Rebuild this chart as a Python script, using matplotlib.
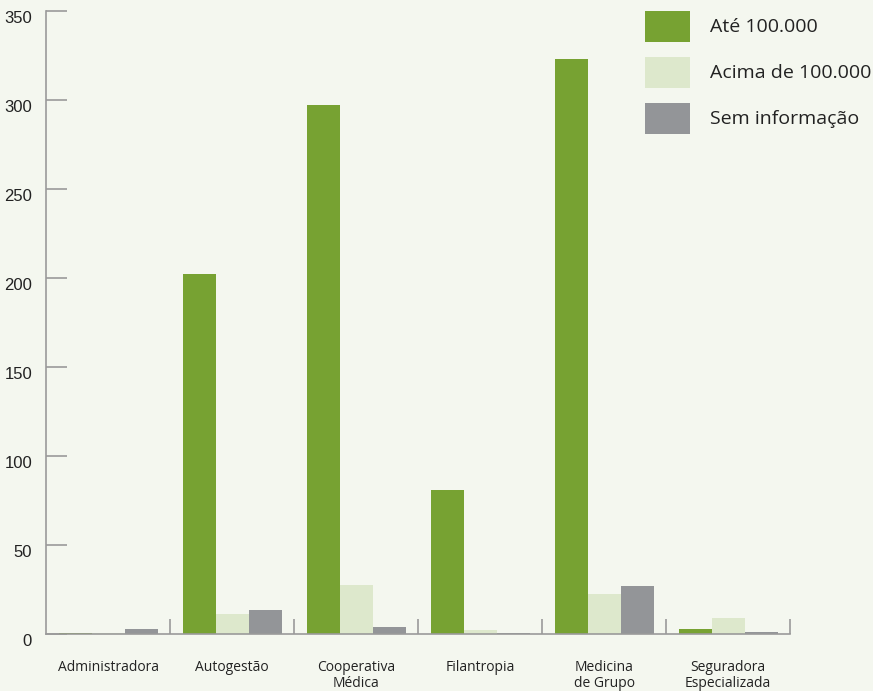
import matplotlib.pyplot as plt
from matplotlib.patches import Rectangle
import numpy as np

categories = ['Administradora', 'Autogestão', 'Cooperativa\nMédica', 'Filantropia',
              'Medicina\nde Grupo', 'Seguradora\nEspecializada']
ate_100k = [0.5, 202, 297, 81, 323, 3]
acima_100k = [0.5, 11, 27.5, 2, 22.5, 9]
sem_info = [3, 13.5, 4, 0.8, 27, 1]
labels = ['Até 100.000', 'Acima de 100.000', 'Sem informação']
colors = ['#77a232', '#dde8cc', '#939598']

bg = '#f4f7ef'
W, H = 873, 691
fig = plt.figure(figsize=(W / 100, H / 100), dpi=100, facecolor=bg)
ax = fig.add_axes([46 / W, 1 - 634 / H, (790 - 46) / W, (634 - 11) / H], facecolor=bg)

x = np.arange(len(categories))
bw = 33 / 124
series = [ate_100k, acima_100k, sem_info]
for i, vals in enumerate(series):
    ax.bar(x + 0.5 + (i - 1) * bw, vals, width=bw, color=colors[i], label=labels[i], zorder=2)

ax.set_xlim(0, len(categories))
ax.set_ylim(0, 350)

axis_col = '#9a9a9a'
for s in ['top', 'right']:
    ax.spines[s].set_visible(False)
for s in ['left', 'bottom']:
    ax.spines[s].set_color(axis_col)
    ax.spines[s].set_linewidth(1.2)

# y ticks point inward, labels sit a little below the tick
ax.set_yticks(np.arange(0, 351, 50))
ax.tick_params(axis='y', direction='in', length=15, width=1.2, color=axis_col,
               labelsize=12, pad=10)
for t in ax.get_yticklabels():
    t.set_fontfamily('Liberation Sans')
    t.set_color('#222222')
    t.set_verticalalignment('top')

# group separators on the x axis, category names drawn as text
ax.set_xticks(np.arange(1, len(categories) + 1))
ax.set_xticklabels([])
ax.tick_params(axis='x', direction='in', length=11, width=1.2, color=axis_col)
for i, c in enumerate(categories):
    ax.text(i + 0.5, -0.042, c, transform=ax.get_xaxis_transform(), ha='center', va='top',
            fontsize=10, family='Open Sans', color='#222222', linespacing=1.1)

# legend drawn by hand: big swatches on the top right
for i, (lab, col) in enumerate(zip(labels, colors)):
    top = 11 + i * 46
    fig.add_artist(Rectangle((645 / W, 1 - (top + 31) / H), 45 / W, 31 / H,
                             transform=fig.transFigure, facecolor=col, edgecolor='none'))
    fig.text(710 / W, 1 - (top + 15.5) / H, lab, ha='left', va='center',
             family='Open Sans', fontsize=14, color='#222222')

fig.savefig('out.png', dpi=100, facecolor=bg)
